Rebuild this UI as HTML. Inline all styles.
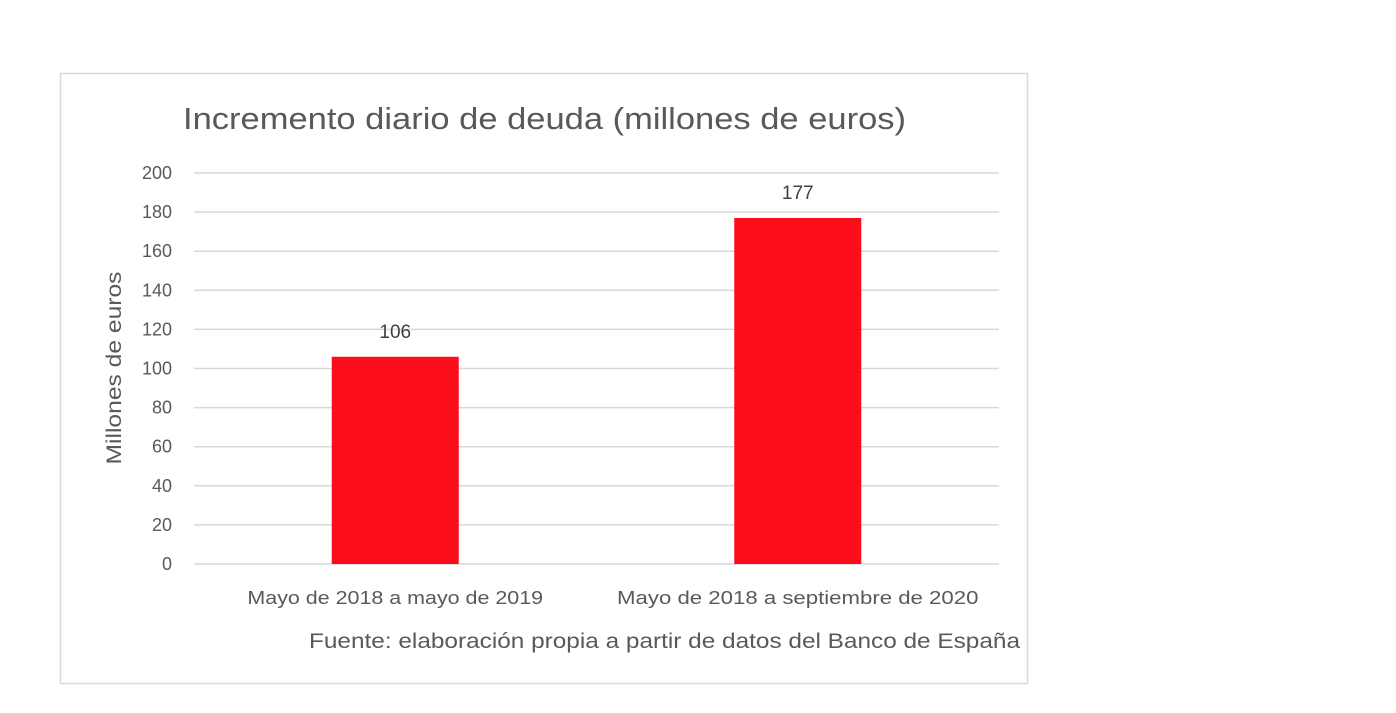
<!DOCTYPE html>
<html><head><meta charset="utf-8"><style>
body{margin:0;width:1396px;height:708px;background:#fff;overflow:hidden;font-family:"Liberation Sans",sans-serif}
</style></head><body>
<svg id="chart" width="1396" height="708" xmlns="http://www.w3.org/2000/svg" font-family="Liberation Sans, sans-serif">
<rect x="60.5" y="73.5" width="967" height="610" fill="#fff" stroke="#d9d9d9" stroke-width="1.5"/>
<text x="183" y="129" font-size="31" fill="#595959" textLength="723" lengthAdjust="spacingAndGlyphs">Incremento diario de deuda (millones de euros)</text>
<text transform="translate(121,368) rotate(-90)" text-anchor="middle" font-size="21" fill="#595959" textLength="193" lengthAdjust="spacingAndGlyphs">Millones de euros</text>
<g id="grid"></g><g id="bars"></g>
<text x="309" y="648" font-size="21" fill="#595959" textLength="711" lengthAdjust="spacingAndGlyphs">Fuente: elaboración propia a partir de datos del Banco de España</text>
</svg>
<script>
const categories=["Mayo de 2018 a mayo de 2019","Mayo de 2018 a septiembre de 2020"];
const values=[106,177];
const ticks=[0,20,40,60,80,100,120,140,160,180,200];
const NS="http://www.w3.org/2000/svg";
const x0=194,x1=999,yb=564,yt=173,ymax=200;
const y=v=>yb-(v/ymax)*(yb-yt);
const band=(x1-x0)/categories.length,bw=127;
const g=document.getElementById('grid'),b=document.getElementById('bars');
function mk(p,tag,a){const e=document.createElementNS(NS,tag);for(const k in a)e.setAttribute(k,a[k]);p.appendChild(e);return e;}
ticks.forEach(t=>{
 const l=mk(g,'line',{x1:x0,x2:x1,y1:y(t),y2:y(t),stroke:'#d9d9d9','stroke-width':1.5});
 
 
 const tx=mk(g,'text',{x:172,y:y(t)+6,'text-anchor':'end','font-size':18,fill:'#595959'});tx.textContent=t;
 
 
});
categories.forEach((c,i)=>{
 const cx=x0+band*(i+0.5);
 const r=mk(b,'rect',{x:cx-bw/2,y:y(values[i]),width:bw,height:yb-y(values[i]),fill:'#fb0d1b'});
 
 
 const v=mk(b,'text',{x:cx,y:y(values[i])-19,'text-anchor':'middle','font-size':19,fill:'#404040'});v.textContent=values[i];
 
 
 const cl=mk(b,'text',{x:cx,y:604,'text-anchor':'middle','font-size':18,fill:'#595959',textLength:c.length*10.95,lengthAdjust:'spacingAndGlyphs'});cl.textContent=c;
 
 
});
</script>
</body></html>
